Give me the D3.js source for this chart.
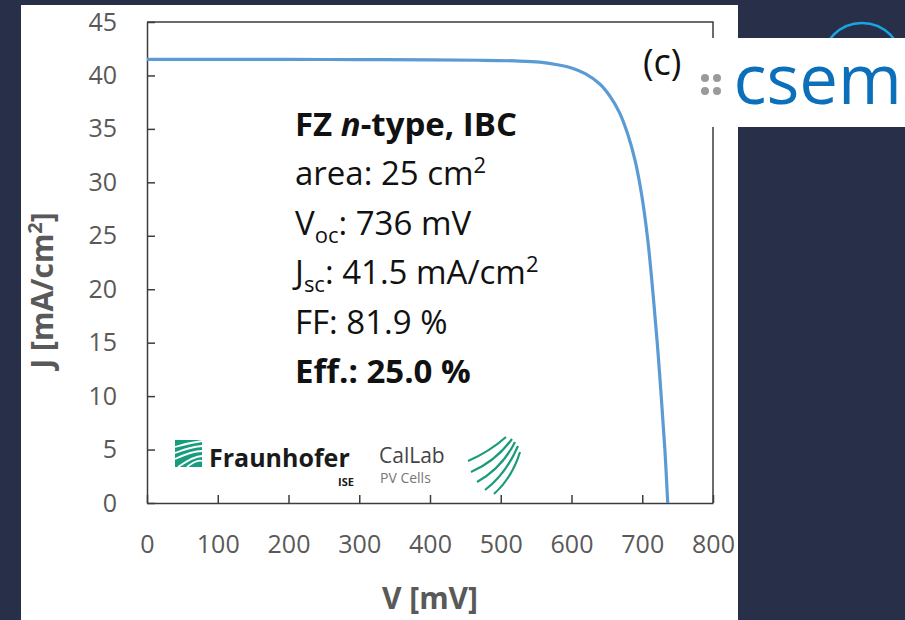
<!DOCTYPE html>
<html>
<head>
<meta charset="utf-8">
<script src="https://cdn.jsdelivr.net/npm/d3@7"></script>
<style>
  html, body { margin: 0; padding: 0; background: #282f48; }
  svg { display: block; }
  text { font-family: "Open Sans", "Noto Sans", sans-serif; }
</style>
</head>
<body>
<svg id="chart" width="905" height="620"></svg>
<script>
// J-V curve of the 25 cm² FZ n-type IBC cell
const voltage = [0, 100, 200, 300, 400, 470, 520, 555, 580, 600, 620, 640, 655, 668, 680, 690, 699, 708, 716, 722, 727, 732, 736];
const currentDensity = [41.5, 41.5, 41.5, 41.48, 41.45, 41.42, 41.36, 41.25, 41.0, 40.7, 40.15, 39.2, 38.0, 36.5, 34.4, 32.0, 28.9, 24.5, 19.0, 14.3, 9.8, 5.0, 0];

const xTicks = [0, 100, 200, 300, 400, 500, 600, 700, 800];
const yTicks = [0, 5, 10, 15, 20, 25, 30, 35, 40, 45];

const svg = d3.select("#chart");

// white slide panel
svg.append("rect").attr("x", 21).attr("y", 5).attr("width", 717).attr("height", 615).attr("fill", "#ffffff");

const x = d3.scaleLinear().domain([0, 800]).range([147, 713]);
const y = d3.scaleLinear().domain([0, 45]).range([503, 22]);

const axisColor = "#3c3c3c";
const labelColor = "#595959";

// top and right frame of the plot area
svg.append("path")
  .attr("d", `M${x(0)},${y(45)}H${x(800)}V${y(0)}`)
  .attr("fill", "none").attr("stroke", axisColor).attr("stroke-width", 1.5);

const xAxis = svg.append("g")
  .attr("transform", `translate(0,${y(0)})`)
  .call(d3.axisBottom(x).tickValues(xTicks).tickSizeInner(-8).tickSizeOuter(0).tickPadding(32));
const yAxis = svg.append("g")
  .attr("transform", `translate(${x(0)},0)`)
  .call(d3.axisLeft(y).tickValues(yTicks).tickSizeInner(-8).tickSizeOuter(0).tickPadding(30));

[xAxis, yAxis].forEach(g => {
  g.select(".domain").attr("stroke", axisColor).attr("stroke-width", 1.5);
  g.selectAll(".tick line").attr("stroke", axisColor).attr("stroke-width", 1.5);
  g.selectAll(".tick text")
    .attr("fill", labelColor)
    .style("font-size", "25px")
    .style("font-family", '"Open Sans", sans-serif');
});

// axis titles
svg.append("text")
  .attr("x", (x(0) + x(800)) / 2).attr("y", 609)
  .attr("text-anchor", "middle")
  .attr("fill", labelColor).style("font-size", "30px").style("font-weight", 700)
  .text("V [mV]");

const yTitle = svg.append("text")
  .attr("transform", `translate(53,${(y(0) + y(45)) / 2 + 28}) rotate(-90)`)
  .attr("text-anchor", "middle")
  .attr("fill", labelColor).style("font-size", "30px").style("font-weight", 700);
yTitle.append("tspan").text("J [mA/cm");
yTitle.append("tspan").attr("dy", -11).style("font-size", "20px").text("2");
yTitle.append("tspan").attr("dy", 11).text("]");

// J-V curve
const line = d3.line()
  .x((d, i) => x(voltage[i]))
  .y((d, i) => y(currentDensity[i]))
  .curve(d3.curveCatmullRom.alpha(0.5));
svg.append("path")
  .datum(voltage)
  .attr("d", line)
  .attr("fill", "none")
  .attr("stroke", "#5b9bd5")
  .attr("stroke-width", 3.2)
  .attr("stroke-linejoin", "round");

// cell parameters
const tx = 295, t0 = 136, lh = 49.4;
const block = svg.append("g").attr("fill", "#111").style("font-size", "33px");

const l1 = block.append("text").attr("x", tx).attr("y", t0).style("font-weight", 700);
l1.append("tspan").text("FZ ");
l1.append("tspan").style("font-style", "italic").text("n");
l1.append("tspan").text("-type, IBC");

const l2 = block.append("text").attr("x", tx).attr("y", t0 + lh);
l2.append("tspan").text("area: 25 cm");
l2.append("tspan").attr("dy", -12).style("font-size", "22px").text("2");

const l3 = block.append("text").attr("x", tx).attr("y", t0 + 2 * lh);
l3.append("tspan").text("V");
l3.append("tspan").attr("dy", 8).style("font-size", "22px").text("oc");
l3.append("tspan").attr("dy", -8).text(": 736 mV");

const l4 = block.append("text").attr("x", tx).attr("y", t0 + 3 * lh);
l4.append("tspan").text("J");
l4.append("tspan").attr("dy", 8).style("font-size", "22px").text("sc");
l4.append("tspan").attr("dy", -8).text(": 41.5 mA/cm");
l4.append("tspan").attr("dy", -12).style("font-size", "22px").text("2");

block.append("text").attr("x", tx).attr("y", t0 + 4 * lh).text("FF: 81.9 %");
block.append("text").attr("x", tx).attr("y", t0 + 5 * lh).style("font-weight", 700).text("Eff.: 25.0 %");

// panel tag
svg.append("text").attr("x", 643).attr("y", 75).attr("fill", "#111").style("font-size", "36px").text("(c)");

// Fraunhofer ISE mark
const fh = svg.append("g");
fh.append("rect").attr("x", 175).attr("y", 440).attr("width", 27).attr("height", 27).attr("fill", "#179c7d");
[
  "M175,447 Q188,443 202,441",
  "M175,453 Q190,447 202,446",
  "M175,459 Q192,451 202,451",
  "M178,467 Q194,456 202,456",
  "M187,467 Q197,459 202,461"
].forEach(d => fh.append("path").attr("d", d).attr("fill", "none").attr("stroke", "#ffffff").attr("stroke-width", 1.8));
fh.append("text").attr("x", 209).attr("y", 467).attr("fill", "#1a1a1a")
  .style("font-size", "25px").style("font-weight", 700).text("Fraunhofer");
fh.append("text").attr("x", 338).attr("y", 486).attr("fill", "#1a1a1a")
  .style("font-size", "11px").style("font-weight", 700).text("ISE");

// CalLab PV Cells mark
const cl = svg.append("g");
cl.append("text").attr("x", 379).attr("y", 463).attr("fill", "#444").style("font-size", "21px").text("CalLab");
cl.append("text").attr("x", 380).attr("y", 483).attr("fill", "#777").style("font-size", "14px").text("PV Cells");
[
  "M468,461 Q489,452 506,437",
  "M471,472 Q496,461 512,439",
  "M477,482 Q502,468 515,442",
  "M485,490 Q506,474 518,446",
  "M494,494 Q512,478 520,452"
].forEach(d => cl.append("path").attr("d", d).attr("fill", "none").attr("stroke", "#1a9b7b").attr("stroke-width", 2.2));

// csem logo
svg.append("circle").attr("cx", 862).attr("cy", 63).attr("r", 40)
  .attr("fill", "none").attr("stroke", "#19a4e2").attr("stroke-width", 2.5);
svg.append("rect").attr("x", 699).attr("y", 38).attr("width", 206).attr("height", 89).attr("fill", "#ffffff");
[[705, 78], [717, 78], [705, 91], [717, 91]].forEach(([cx, cy]) =>
  svg.append("circle").attr("cx", cx).attr("cy", cy).attr("r", 4).attr("fill", "#9a9a9a"));
svg.append("text").attr("x", 902).attr("y", 104).attr("text-anchor", "end").attr("fill", "#0b6fba")
  .style("font-size", "69px").style("font-weight", 500).text("csem");
</script>
</body>
</html>
